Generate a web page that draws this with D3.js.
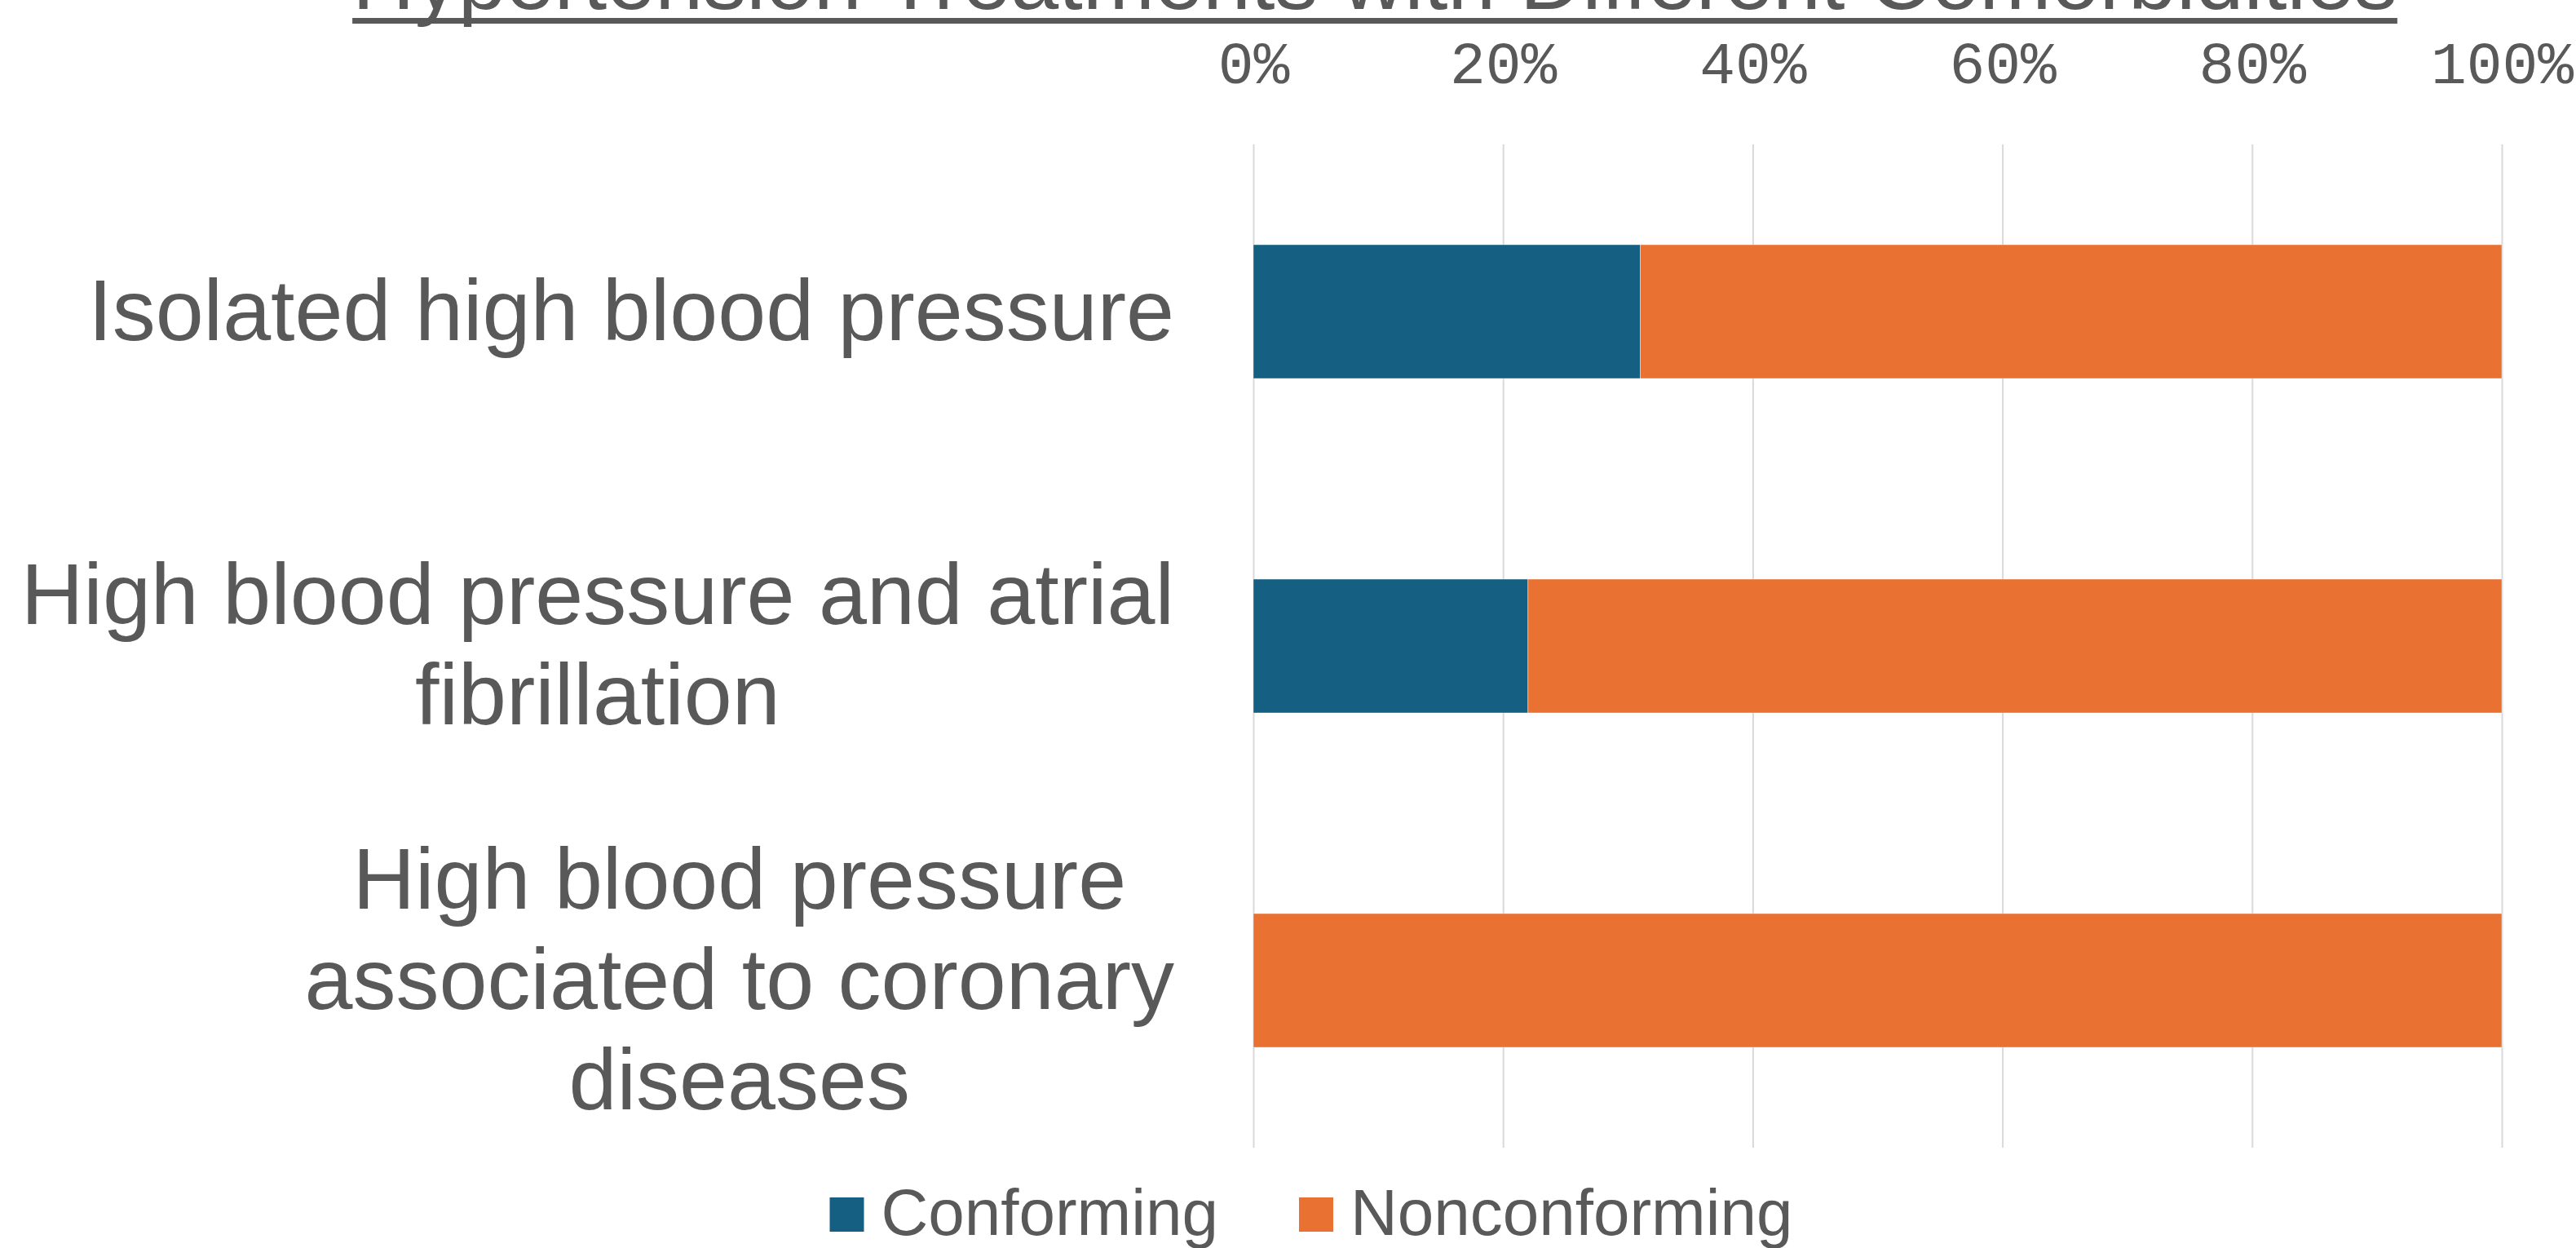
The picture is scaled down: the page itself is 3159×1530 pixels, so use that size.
<!DOCTYPE html>
<html>
<head>
<meta charset="utf-8">
<script src="https://cdn.jsdelivr.net/npm/d3@7"></script>
<style>
  html, body { margin: 0; padding: 0; background: #fff; }
  svg { display: block; }
</style>
</head>
<body>
<div id="chart"></div>
<script>
// data
var title = "Hypertension Treatments with Different Comorbidities";
var categories = [
	["Isolated high blood pressure"],
	["High blood pressure and atrial", "fibrillation"],
	["High blood pressure", "associated to coronary", "diseases"]
];
var seriesNames = ["Conforming", "Nonconforming"];
var conforming = [0.31, 0.22, 0];
var nonconforming = [0.69, 0.78, 1.00];
var tickValues = [0, 0.2, 0.4, 0.6, 0.8, 1.0];

var width = 3159, height = 1530;
var colors = ["#156082", "#E97132"];
var textColor = "#595959";
var margin = { top: 177, right: 91, bottom: 123, left: 1537 };

var svg = d3.select("#chart").append("svg")
	.attr("width", width)
	.attr("height", height);

var x = d3.scaleLinear()
	.domain([0, 1])
	.range([margin.left, width - margin.right]);

var y = d3.scaleBand()
	.domain(d3.range(categories.length))
	.range([margin.top, height - margin.bottom])
	.paddingInner(0.6)
	.paddingOuter(0.3);

// gridlines
var grid = svg.append("g")
	.attr("class", "grid")
	.attr("transform", "translate(0," + margin.top + ")")
	.call(d3.axisTop(x).tickValues(tickValues).tickSize(-(height - margin.bottom - margin.top)).tickFormat(""));
grid.select(".domain").remove();
grid.selectAll("line").attr("stroke", "#d9d9d9").attr("stroke-width", 2);

// top axis labels
var axis = svg.append("g")
	.attr("transform", "translate(0,102)")
	.call(d3.axisTop(x).tickValues(tickValues).tickSize(0).tickPadding(0).tickFormat(d3.format(".0%")));
axis.select(".domain").remove();
axis.selectAll("text")
	.attr("dy", 0)
	.style("font-family", "'Liberation Mono', 'Courier New', monospace")
	.style("font-size", "73px")
	.style("fill", textColor);

// stacked bars
var rows = categories.map(function(c, i) {
	return { idx: i, Conforming: conforming[i], Nonconforming: nonconforming[i] };
});
var stacked = d3.stack().keys(seriesNames)(rows);

svg.append("g").selectAll("g")
	.data(stacked)
	.enter().append("g")
	.attr("fill", function(d, i) { return colors[i]; })
	.selectAll("rect")
	.data(function(d) { return d; })
	.enter().append("rect")
		.attr("x", function(d) { return x(d[0]); })
		.attr("y", function(d) { return y(d.data.idx); })
		.attr("width", function(d) { return Math.max(0, x(d[1]) - x(d[0])); })
		.attr("height", y.bandwidth())
		.attr("stroke", function(d) { return (d[1] - d[0]) > 0 ? "#ffffff" : "none"; })
		.attr("stroke-width", 0.8)
		.attr("stroke-opacity", 0.5);

// category labels (wrapped lines, centered block, block right-aligned)
var labelFont = "'Liberation Sans', Arial, sans-serif";
var labelSize = 106, lineH = 123, labelRight = 1440;
var labels = svg.append("g").attr("class", "labels");
categories.forEach(function(lines, i) {
	var t = labels.append("text")
		.style("font-family", labelFont)
		.style("font-size", labelSize + "px")
		.style("fill", textColor)
		.attr("text-anchor", "middle");
	var cy = y(i) + y.bandwidth() / 2 + 34.5 - (lines.length - 1) * lineH / 2;
	var spans = lines.map(function(l, j) {
		return t.append("tspan").attr("y", cy + j * lineH).text(l);
	});
	var maxW = d3.max(spans, function(s) { return s.node().getComputedTextLength(); });
	spans.forEach(function(s) { s.attr("x", labelRight - maxW / 2); });
});

// title with underline
var titleText = svg.append("text")
	.attr("x", 1686)
	.attr("y", 11)
	.attr("text-anchor", "middle")
	.style("font-family", labelFont)
	.style("font-size", "106px")
	.style("fill", textColor)
	.text(title);
var tw = titleText.node().getComputedTextLength();
svg.append("rect")
	.attr("x", 1686 - tw / 2)
	.attr("y", 22)
	.attr("width", tw)
	.attr("height", 7)
	.attr("fill", textColor);

// legend
var legendSize = 80, sw = 42, swGap = 21, itemGap = 99, legendCenter = 1608, legendBase = 1514;
var legend = svg.append("g").attr("class", "legend");
var items = seriesNames.map(function(name, i) {
	var g = legend.append("g");
	g.append("rect")
		.attr("width", sw).attr("height", sw)
		.attr("y", legendBase - 46)
		.attr("fill", colors[i]);
	var tx = g.append("text")
		.attr("x", sw + swGap)
		.attr("y", legendBase)
		.style("font-family", labelFont)
		.style("font-size", legendSize + "px")
		.style("fill", textColor)
		.text(name);
	return { g: g, w: sw + swGap + tx.node().getComputedTextLength() };
});
var totalW = d3.sum(items, function(d) { return d.w; }) + itemGap * (items.length - 1);
var cx = legendCenter - totalW / 2;
items.forEach(function(it) {
	it.g.attr("transform", "translate(" + cx + ",0)");
	cx += it.w + itemGap;
});
</script>
</body>
</html>
